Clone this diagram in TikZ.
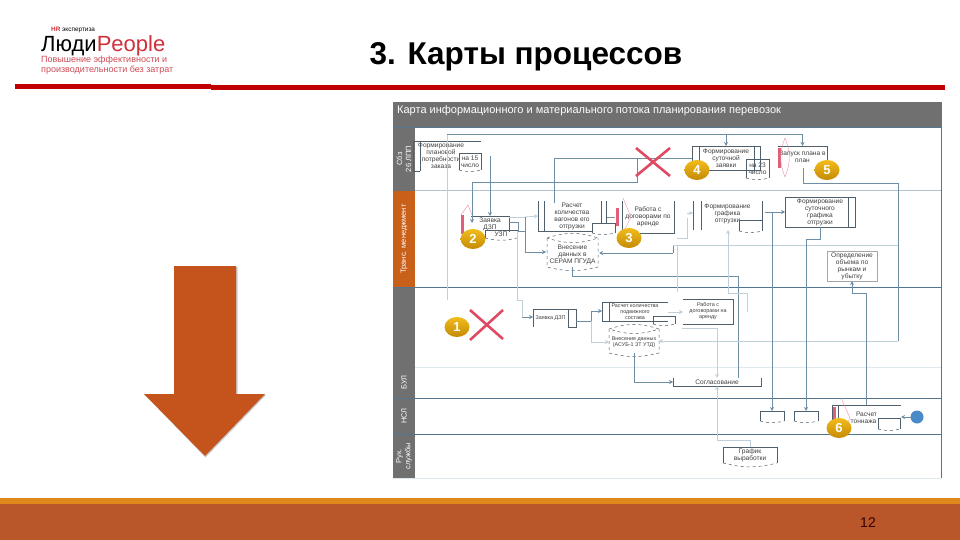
\documentclass[tikz,border=0pt]{standalone}
\usepackage{fontspec}
\usepackage{xcolor}
\setmainfont{Liberation Sans}
\usetikzlibrary{arrows.meta,shapes.geometric}
\definecolor{barred}{HTML}{C00000}
\definecolor{logored}{HTML}{D0303A}
\definecolor{sloganred}{HTML}{CC4A55}
\definecolor{footbrown}{HTML}{B9562A}
\definecolor{footorange}{HTML}{E0871C}
\definecolor{arrowfill}{HTML}{C5531C}
\definecolor{headgray}{HTML}{707070}
\definecolor{laneorange}{HTML}{C9601A}
\definecolor{laneline}{HTML}{54758F}
\definecolor{flowcol}{HTML}{6E8EA6}
\definecolor{flowfaint}{HTML}{BFD0DB}
\definecolor{boxcol}{HTML}{4F5F6B}
\definecolor{crossred}{HTML}{DF4A62}
\definecolor{markpink}{HTML}{E0607A}
\definecolor{endblue}{HTML}{4A8AC9}
\definecolor{badgetop}{HTML}{F2BC1C}
\definecolor{badgelow}{HTML}{C48A04}
\tikzset{
    small/.style={font=\fontsize{6.6}{7}\selectfont,text=black!75,align=center,inner sep=0pt,outer sep=0pt},
    tinier/.style={font=\fontsize{5.4}{6}\selectfont},
    card/.style={small,minimum width=#1},
    card/.default=40,
    docbox/.style={small,fill=white},
    lanehead/.style={rotate=90,text=white,align=center,inner sep=0pt,outer sep=0pt,font=\fontsize{7.5}{9}\selectfont,minimum height=22},
    badge/.style={ellipse,top color=badgetop,bottom color=badgelow,text=white,inner sep=0pt,outer sep=0pt,font=\bfseries\fontsize{13}{13}\selectfont,minimum width=25,minimum height=20},
    outline/.style={draw=boxcol,line width=.7pt},
    wave/.style={draw=boxcol,line width=.5pt,dashed},
    flow/.style={draw=flowcol,line width=.9pt,-{Stealth[length=4pt,width=4pt]}},
    plain/.style={draw=flowcol,line width=.9pt},
    faint/.style={draw=flowfaint,line width=.8pt},
    faintflow/.style={draw=flowfaint,line width=.8pt,-{Stealth[length=4pt,width=4pt]}},
    pinkbar/.style={fill=markpink},
    markline/.style={draw=markpink!70,line width=.4pt},
    redcross/.style={draw=crossred,line width=2.6pt},
}
\begin{document}
\begin{tikzpicture}[x=1pt,y=-1pt]
    \useasboundingbox (0,0) rectangle (960,540);
    % logo and title
    \node[anchor=west,inner sep=0pt,font=\fontsize{6.4}{6.4}\selectfont] (expert) at (51,30) {\textcolor{logored}{\textbf{HR}} экспертиза};
    \node[anchor=west,inner sep=0pt,font=\fontsize{22}{22}\selectfont] (brand) at (41,45.5) {Люди\textcolor{logored}{People}};
    \node[anchor=west,inner sep=0pt,text=sloganred,font=\fontsize{9}{9}\selectfont] (sloganA) at (41,60) {Повышение эффективности и};
    \node[anchor=west,inner sep=0pt,text=sloganred,font=\fontsize{9}{9}\selectfont] (sloganB) at (41,70) {производительности без затрат};
    \node[anchor=base,inner sep=0pt,font=\bfseries\fontsize{31.5}{31.5}\selectfont] (title) at (526,65) {3. Карты процессов};
    \fill[barred] (15,84) rectangle (211,89);
    \fill[barred] (211,85) rectangle (945,90);
    % footer
    \fill[footorange] (0,498) rectangle (960,504);
    \fill[footbrown] (0,504) rectangle (960,540);
    \node[inner sep=0pt,text=black!80!red,font=\fontsize{14}{14}\selectfont] (pagenum) at (868,523) {12};
    % big arrow
    \fill[black!22] (175,267) -- (237.5,267) -- (237.5,395) -- (266,395) -- (205.5,457.5) -- (145,395) -- (175,395) -- cycle;
    \fill[arrowfill] (174,266) -- (236,266) -- (236,394) -- (265,394) -- (205,456) -- (144,394) -- (174,394) -- cycle;
    % panel and lanes
    \fill[white] (393,102) rectangle (942,478);
    \node[fill=headgray,minimum width=549,minimum height=25,inner sep=0pt] (panelhead) at (667.5,114.5) {};
    \node[anchor=west,inner sep=0pt,text=white,font=\fontsize{11}{11}\selectfont] (paneltitle) at (397,110.5) {Карта информационного и материального потока планирования перевозок};
    \node[lanehead,fill=headgray,minimum width=64] (lanesbz) at (404,159) {Сбз\\26 ЛПП};
    \node[lanehead,fill=laneorange,minimum width=96] (lanetrans) at (404,239) {Транс. менеджмент};
    \node[lanehead,fill=headgray,minimum width=80] (lanerow) at (404,327) {};
    \node[lanehead,fill=headgray,minimum width=31] (lanebul) at (404,382.5) {БУЛ};
    \node[lanehead,fill=headgray,minimum width=36] (lanensl) at (404,416) {НСЛ};
    \node[lanehead,fill=headgray,minimum width=44] (laneruk) at (404,456) {Рук.\\службы};
    \draw[laneline,line width=.8pt] (393,127) -- (941,127) -- (941,478);
    \draw[laneline!45,line width=.7pt] (415,190) -- (941,190);
    \draw[laneline,line width=.9pt] (393,287) -- (941,287);
    \draw[flowfaint!50,line width=.8pt] (415,367) -- (941,367);
    \draw[laneline,line width=.9pt] (393,398) -- (941,398);
    \draw[laneline,line width=.9pt] (393,434) -- (941,434);
    \draw[flowfaint!50,line width=.8pt] (393,478) -- (941,478);
    % process boxes
    \node[card=56,minimum height=30] (needbox) at (441,156) {Формирование\\плановой\\потребности\\заказа};
    \node[docbox,minimum width=22,minimum height=17] (needdoc) at (470,161.5) {на 15\\число};
    \node[card=38,minimum height=16] (request) at (490,224) {Заявка\\ДЗП};
    \node[docbox,minimum width=32,minimum height=8] (requestdoc) at (501,234) {УЗП};
    \node[card=56,minimum height=30] (calcbox) at (572,216) {Расчет\\количества\\вагонов его\\отгрузки};
    \node[docbox,minimum width=23,minimum height=10] (calcdoc) at (603.5,228) {};
    \node[card=52,minimum height=32] (leasebox) at (648,217) {Работа с\\договорами по\\аренде};
    \node[small,minimum width=51,minimum height=29] (cylone) at (572.5,252.5) {\\[3pt]Внесение\\данных в\\СЕРАМ ПГУДА};
    \node[card=68,minimum height=24] (dailycard) at (726,158) {Формирование\\суточной\\заявки};
    \node[docbox,minimum width=23,minimum height=19] (dailydoc) at (757.5,168.5) {на 23\\число};
    \node[card=50,minimum height=21] (planstart) at (802.5,156.5) {Запуск плана в\\план};
    \node[card=69,minimum height=30] (shipplan) at (727.5,214) {Формирование\\графика\\отгрузки};
    \node[docbox,minimum width=23,minimum height=11] (shipdoc) at (750.5,225.5) {};
    \node[card=70,minimum height=30] (dayprofile) at (820,212) {Формирование\\суточного\\графика\\отгрузки};
    \node[card=50,minimum height=30,draw=black!35,line width=.6pt] (volume) at (852,266) {Определение\\объема по\\рынкам и\\убытку};
    \node[docbox,tinier,minimum width=35,minimum height=18] (requesttwo) at (550.5,318) {Заявка ДЗП};
    \node[small,minimum width=8,minimum height=18,draw=boxcol,line width=.5pt] (requestflag) at (572,318) {};
    \node[card=66,tinier,minimum height=19] (calctrain) at (635,311.5) {Расчет количества\\подвижного\\состава};
    \node[docbox,minimum width=22,minimum height=8] (traindoc) at (664,320) {};
    \node[small,tinier,minimum width=50,minimum height=24] (cyltwo) at (634,341) {\\Внесение данных\\(АСУБ-1 ЗТ УТД)};
    \node[card=50,tinier,minimum height=25] (leasetwo) at (708,311.5) {Работа с\\договорами на\\аренду};
    \node[card=88,minimum height=8] (approve) at (717,382) {Согласование};
    \node[docbox,minimum width=24,minimum height=10] (sheetone) at (772,416) {};
    \node[docbox,minimum width=24,minimum height=10] (sheettwo) at (806,416) {};
    \node[card=69,minimum height=24] (tonnage) at (866.5,417) {\\Расчет\\тоннажа\hspace*{6pt}};
    \node[docbox,minimum width=22,minimum height=11] (tonnagedoc) at (889,423.5) {};
    \node[docbox,minimum width=54,minimum height=16] (outputdoc) at (750,455) {График\\выработки};
    \node[circle,fill=endblue,minimum size=13,inner sep=0pt,outer sep=0pt] (finish) at (917,417) {};
    % box outlines
    \draw[outline] (413,171) -- (413,141) -- (481,141);
    \draw[outline] (413,171) -- (420,171);
    \draw[outline] (420,141) -- (420,171);
    \draw[outline] (request.west |- 0,216) -- (request.north east) -- (request.south east);
    \draw[outline] (538,201) -- (538,231) -- (592,231);
    \draw[outline] (606,201) -- (606,223);
    \draw[outline] (544,201) -- (544,231);
    \draw[outline] (601,201) -- (601,223);
    \draw[outline] (622,201) -- (622,233) -- (674,233) -- (674,201);
    \draw[outline] (dailycard.south west) -- (dailycard.north west) -- (dailycard.north east) -- (dailycard.south east) -- cycle;
    \draw[outline] (699,146) -- (699,170);
    \draw[outline] (754,146) -- (754,170);
    \draw[outline] (planstart.north west) -- (planstart.north east) -- (planstart.south east);
    \draw[outline] (693,201) -- (693,230);
    \draw[outline] (701,201) -- (701,230);
    \draw[outline] (762,201) -- (762,231);
    \draw[outline] (dayprofile.north west) rectangle (dayprofile.south east);
    \draw[outline] (848,197) -- (848,227);
    \draw[outline] (requesttwo.north west) -- (requesttwo.north east) -- (requesttwo.south east);
    \draw[outline] (requesttwo.south west) -- (requesttwo.north west);
    \draw[outline] (calctrain.south east) -- (calctrain.south west) -- (calctrain.north west) -- (calctrain.north east);
    \draw[outline] (609,302) -- (609,321);
    \draw[outline] (leasetwo.north west) -- (leasetwo.north east) -- (leasetwo.south east) -- (leasetwo.south west);
    \draw[outline] (approve.north west) -- (approve.south west) -- (approve.south east) -- (approve.north east);
    \draw[outline] (tonnage.south west) -- (tonnage.north west) -- (tonnage.north east);
    \draw[outline] (838,405) -- (838,429);
    % documents
    \foreach \docname in {needdoc,requestdoc,calcdoc,dailydoc,shipdoc,traindoc,sheetone,sheettwo,tonnagedoc,outputdoc} {
        \draw[outline,line width=.5pt] (\docname.south west) -- (\docname.north west) -- (\docname.north east) -- (\docname.south east);
        \draw[wave] (\docname.south west) to[bend right=14] (\docname.south east);
    }
    % cylinders
    \foreach \cylname in {cylone,cyltwo} {
        \draw[wave] (\cylname.north west) -- (\cylname.south west) to[bend right=14] (\cylname.south east) -- (\cylname.north east);
        \draw[wave] (\cylname.north west) to[bend left=18] (\cylname.north east) to[bend left=18] (\cylname.north west);
    }
    % connectors
    \coordinate (topstart) at (447,134);
    \coordinate (lowstart) at (447,300);
    \coordinate (needout) at (490,156);
    \coordinate (cardin) at (692,158);
    \coordinate (bendA) at (637,182);
    \coordinate (reqin) at (472,223);
    \coordinate (calcout) at (554,203);
    \coordinate (bendB) at (637,158);
    \draw[faint] (topstart) -- (lowstart);
    \draw[flow] (topstart) -| (dailycard.north);
    \draw[flow] (topstart) -| (planstart.north);
    \draw[flow] (needout) -- (request.north);
    \draw[flow] (cardin) -| (bendA) -| (reqin);
    \draw[plain] (calcout) |- (bendB);
    \coordinate (reqA) at (509,222);
    \coordinate (reqB) at (518,231);
    \coordinate (reqC) at (525,231);
    \coordinate (reqD) at (525,217);
    \coordinate (reqE) at (509,217);
    \coordinate (calcin) at (538,216);
    \coordinate (cylin) at (546,252);
    \coordinate (calcsideA) at (607,217);
    \coordinate (calcsideB) at (615,217);
    \draw[plain] (reqA) -| (reqB) -- (reqC);
    \draw[faint] (reqE) -- (reqD);
    \draw[faintflow] (reqD) -- (calcin);
    \draw[flow] (reqD) |- (cylin);
    \draw[faint,draw=boxcol!70] (calcsideA) -- (calcsideB);
    \coordinate (cylout) at (572,267);
    \coordinate (lineA) at (738,276);
    \coordinate (lineB) at (738,378);
    \draw[plain] (cylout) |- (lineA) -- (lineB);
    \coordinate (backA) at (673,245);
    \coordinate (backB) at (673,253);
    \coordinate (cylback) at (599,253);
    \coordinate (backC) at (898,245);
    \coordinate (backD) at (677,245);
    \coordinate (backE) at (677,292);
    \coordinate (backG) at (687,218);
    \coordinate (backH) at (677,238);
    \coordinate (shipin) at (693,213);
    \draw[plain] (backA) -- (backB);
    \draw[flow] (backB) -- (cylback);
    \draw[faint] (backA) -- (backC);
    \draw[faint] (backD) -- (backE);
    \draw[faint] (backH) -| (backG);
    \draw[flow,draw=flowfaint] (backG |- shipin) -- (shipin);
    \coordinate (rightA) at (898,183);
    \coordinate (rightB) at (898,341);
    \coordinate (cyltwoin) at (659,341);
    \coordinate (planin) at (803,168);
    \draw[plain] (rightB) -- (rightA) -| (planin);
    \draw[faintflow] (rightB) -- (cyltwoin);
    \coordinate (graphA) at (747,312);
    \coordinate (graphB) at (728,293);
    \coordinate (graphC) at (728,230);
    \draw[faint] (graphA) |- (graphB);
    \draw[faintflow] (graphB) -- (graphC);
    \coordinate (shipout) at (765,212);
    \coordinate (joinA) at (772,212);
    \draw[flow] (shipout) -- (dayprofile.west);
    \draw[flow] (joinA) -- (sheetone.north);
    \coordinate (bendC) at (806,239);
    \draw[flow] (dayprofile.south) |- (bendC) -- (sheettwo.north);
    \coordinate (bendD) at (852,293);
    \draw[flow] (tonnage.north) |- (bendD) -- (volume.south);
    \coordinate (lowA) at (517,231);
    \coordinate (lowB) at (517,300);
    \coordinate (lowC) at (522,317);
    \coordinate (reqtwoin) at (533,317);
    \draw[faint] (lowA) -- (lowB);
    \draw[faint] (lowB) -| (lowC);
    \draw[flow] (lowC) -- (reqtwoin);
    \coordinate (splitA) at (576,321);
    \coordinate (splitB) at (591,321);
    \coordinate (trainin) at (602,311);
    \coordinate (cylfront) at (609,342);
    \draw[plain] (splitA) -- (splitB);
    \draw[flow] (splitB) |- (trainin);
    \draw[faintflow] (splitB) |- (cylfront);
    \coordinate (approvein) at (673,382);
    \draw[flow] (cyltwo.south) |- (approvein);
    \coordinate (leasein) at (683,312);
    \coordinate (leaseout) at (668,312);
    \draw[faintflow] (leaseout) -- (leasein);
    \coordinate (leasedown) at (682,328);
    \coordinate (approveup) at (717,378);
    \coordinate (approvelow) at (717,386);
    \coordinate (outbend) at (717,440);
    \coordinate (tonnageout) at (901,417);
    \draw[faintflow] (leasedown) -| (approveup);
    \draw[faintflow] (outputdoc.north) |- (outbend) -- (approvelow);
    \draw[flow] (finish.west) -- (tonnageout);
    % red marks
    \fill[pinkbar] (461,215) rectangle (464,234);
    \draw[markline] (461,215) -- (468,205) -- (472,215);
    \fill[pinkbar] (616,208) rectangle (619,226);
    \draw[markline] (623,198) -- (631,217) -- (623,233);
    \fill[pinkbar] (778,148) rectangle (781,168);
    \draw[markline] (785,138) to[bend left=22] (785,177);
    \draw[markline] (785,138) to[bend right=22] (785,177);
    \fill[pinkbar] (833,407) rectangle (836,426);
    \draw[markline] (841,398) -- (850,418) -- (846,426);
    \draw[redcross] (636,148) -- (670,176);
    \draw[redcross] (670,148) -- (636,176);
    \draw[redcross] (470,340) -- (503,310);
    \draw[redcross] (470,310) -- (503,339);
    % numbered badges
    \node[badge] (numone) at (457,327) {1};
    \node[badge] (numtwo) at (473,239) {2};
    \node[badge] (numthree) at (629,238) {3};
    \node[badge] (numfour) at (697,170) {4};
    \node[badge] (numfive) at (827,170) {5};
    \node[badge] (numsix) at (839,428) {6};
\end{tikzpicture}
\end{document}
